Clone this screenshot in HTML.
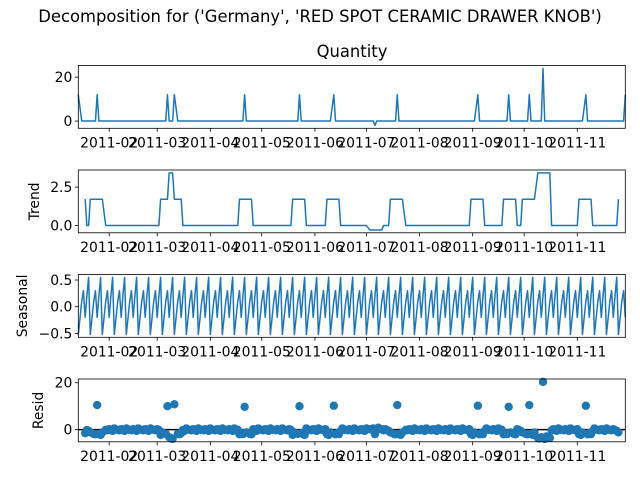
<!DOCTYPE html>
<html><head><meta charset="utf-8"><style>
body{margin:0;background:#fff}
svg{display:block;font-family:"DejaVu Sans","Liberation Sans",sans-serif}
</style></head><body>
<svg id="fig" width="640" height="480" viewBox="0 0 640 480">
<rect width="640" height="480" fill="#fff"/>
<text x="320" y="22" text-anchor="middle" font-size="16.4">Decomposition for ('Germany', 'RED SPOT CERAMIC DRAWER KNOB')</text>
<text x="352" y="57" text-anchor="middle" font-size="16.4">Quantity</text>
</svg>
<script>
// ---- data ----
const firstDay = 13;   // day-of-year offset (2011-01-01 = 0)
const lastDay = 332;
const spikeDays = [13, 24, 65, 69, 110, 142, 162, 186, 199, 246, 264, 276, 284, 309, 332];
const spikeValues = [12, 12, 12, 12, 12, 12, 12, -2, 12, 12, 12, 12, 24, 12, 12];
// seasonal value by weekday index (day % 7; 0 = Saturday, no data)
const seasonalPattern = [null, 0.1, 0.3, -0.2, 0.2, 0.55, -0.52];
const monthTickDays = [31, 59, 90, 120, 151, 181, 212, 243, 273, 304];
const monthTickLabels = ['2011-02','2011-03','2011-04','2011-05','2011-06','2011-07','2011-08','2011-09','2011-10','2011-11'];
const qtyTicks = [0, 20];
const trendTicks = [0, 2.5];
const trendTickLabels = ['0.0', '2.5'];
const seasTicks = [-0.5, 0, 0.5];
const seasTickLabels = ['\u22120.5', '0.0', '0.5'];
const residTicks = [0, 20];

// ---- derived series ----
const days = [];
for (let d = firstDay; d <= lastDay; d++) if (d % 7 !== 0) days.push(d);
const qty = days.map(d => { const i = spikeDays.indexOf(d); return i >= 0 ? spikeValues[i] : 0; });
const seas = days.map(d => seasonalPattern[d % 7]);
const trend = qty.map((v, i) => {
  if (i < 3 || i > qty.length - 4) return null;
  let s = 0; for (let k = -3; k <= 3; k++) s += qty[i + k]; return s / 7;
});
const resid = qty.map((v, i) => trend[i] === null ? null : v - trend[i] - seas[i]);

// ---- layout ----
const NS = 'http://www.w3.org/2000/svg';
const svg = document.getElementById('fig');
const L = 78.3, R = 625.3, H = 62.8;
const tops = [65.5, 170, 274.5, 379];
const xs = d => L + (d - firstDay) / (lastDay - firstDay) * (R - L);
function mk(tag, attrs, parent) {
  const e = document.createElementNS(NS, tag);
  for (const k in attrs) e.setAttribute(k, attrs[k]);
  (parent || svg).appendChild(e); return e;
}
function ext(arr) {
  const v = arr.filter(a => a !== null);
  let lo = Math.min(...v), hi = Math.max(...v), m = (hi - lo) * 0.05;
  return [lo - m, hi + m];
}
function panel(idx, series, ticks, labels, ylabel, name, scatter) {
  const top = tops[idx], bot = top + H;
  const [lo, hi] = ext(series);
  const ys = v => bot - (v - lo) / (hi - lo) * H;
  const g = mk('g', {});
  
  
  if (scatter) {
    const zl = mk('line', {x1: L, x2: R, y1: ys(0), y2: ys(0), stroke: '#000', 'stroke-width': 1.5}, g);
    
    
    series.forEach((v, i) => {
      if (v === null) return;
      const c = mk('circle', {cx: xs(days[i]), cy: ys(v), r: 4.2, fill: '#1f77b4'}, g);
      
      
    });
  } else {
    let dstr = '';
    series.forEach((v, i) => { if (v === null) return; dstr += (dstr ? 'L' : 'M') + xs(days[i]).toFixed(2) + ',' + ys(v).toFixed(2); });
    const p = mk('path', {d: dstr, fill: 'none', stroke: '#1f77b4', 'stroke-width': 1.5, 'stroke-linejoin': 'round'}, g);
    
    
  }
  const fr = mk('rect', {x: L, y: top, width: R - L, height: H, fill: 'none', stroke: '#000', 'stroke-width': 0.8}, g);
  
  
  ticks.forEach((t, i) => {
    const y = ys(t);
    mk('line', {x1: L - 3.5, x2: L, y1: y, y2: y, stroke: '#000', 'stroke-width': 0.8}, g);
    const tx = mk('text', {x: L - 6, y: y + 5, 'text-anchor': 'end', 'font-size': 13.9}, g);
    tx.textContent = labels ? labels[i] : String(t);
    
    
  });
  monthTickDays.forEach((d, i) => {
    const x = xs(d);
    mk('line', {x1: x, x2: x, y1: bot, y2: bot + 3.5, stroke: '#000', 'stroke-width': 0.8}, g);
    const tx = mk('text', {x: x, y: bot + 19, 'text-anchor': 'middle', 'font-size': 13.9}, g);
    tx.textContent = monthTickLabels[i];
    
    
  });
  if (ylabel) {
    const lx = ylabel === 'Seasonal' ? 27 : (ylabel === 'Trend' ? 39 : 43);
    const cy = top + H / 2;
    const yl = mk('text', {x: lx, y: cy, 'text-anchor': 'middle', 'font-size': 13.9, transform: 'rotate(-90 ' + lx + ' ' + cy + ')'}, g);
    yl.textContent = ylabel;
    
    
  }
}
panel(0, qty, qtyTicks, null, null, 'quantity', false);
panel(1, trend, trendTicks, trendTickLabels, 'Trend', 'trend', false);
panel(2, seas, seasTicks, seasTickLabels, 'Seasonal', 'seasonal', false);
panel(3, resid, residTicks, null, 'Resid', 'resid', true);
</script>
</body></html>
